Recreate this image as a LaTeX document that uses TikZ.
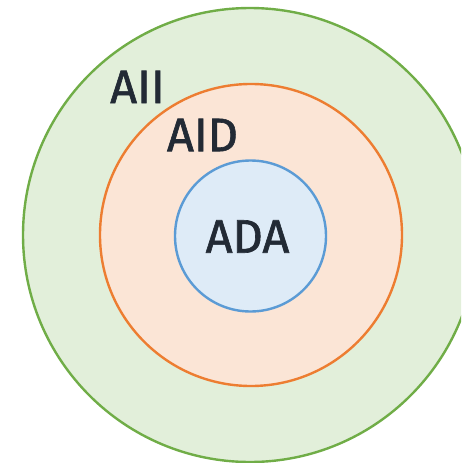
\documentclass[tikz,border=0pt]{standalone}
\usepackage{fontspec}
\setmainfont{Fira Sans}[FakeBold=1.3]
\definecolor{gfill}{HTML}{E2EFDA}
\definecolor{gline}{HTML}{70AD47}
\definecolor{ofill}{HTML}{FBE5D6}
\definecolor{oline}{HTML}{ED7D31}
\definecolor{bfill}{HTML}{DEEBF7}
\definecolor{bline}{HTML}{5B9BD5}
\definecolor{txt}{HTML}{222A35}
\tikzset{
  ring/.style={circle, line width=2.4pt, inner sep=0pt},
  lbl/.style={text=txt, font=\fontsize{47}{50}\selectfont, inner sep=0pt, anchor=center}
}
\begin{document}
\begin{tikzpicture}[x=1pt,y=-1pt]
\useasboundingbox (0,0) rectangle (461,463);
\clip (0,0) rectangle (461,463);
\node[ring, draw=gline, fill=gfill, minimum size=454pt] (outer) at (250,235) {};
\node[ring, draw=oline, fill=ofill, minimum size=302pt] (mid) at (251,235) {};
\node[ring, draw=bline, fill=bfill, minimum size=151pt] (inner) at (250.5,236) {};
\node[lbl] (all) at (137.5,87) {AII};
\node[lbl] (aid) at (202.5,135) {AID};
\node[lbl] (ada) at (247.5,236.5) {ADA};
\end{tikzpicture}
\end{document}
